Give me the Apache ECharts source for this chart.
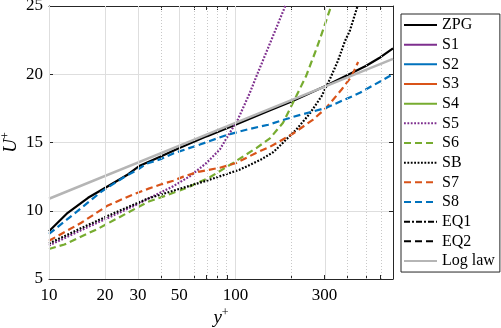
<!DOCTYPE html>
<html>
<head>
<meta charset="utf-8">
<script src="https://cdn.jsdelivr.net/npm/echarts@6/dist/echarts.min.js"></script>
<style>
  html, body { margin: 0; padding: 0; background: #fff; }
  #main { width: 501px; height: 328px; }
</style>
</head>
<body>
<div id="main"></div>
<script>
  // y+ tick values (labelled ones and dotted minor ones)
  const xTickLabels = [10, 20, 30, 50, 100, 300];
  const xMinorTicks = [40, 60, 70, 80, 90, 200, 400, 500, 600];

  // [y+, U+]
  const zpg = [[10, 8.5], [12.6, 9.85], [16.2, 10.95], [20.7, 11.8], [26.5, 12.66], [30.7, 13.3], [40, 14.0], [50, 14.6],
    [70, 15.45], [100, 16.3], [150, 17.3], [200, 18.0], [300, 19.1], [400, 19.95], [500, 20.6], [600, 21.25], [700, 21.9]];
  const s1 = [];
  const s2 = [];
  const s3 = [];
  const s4 = [];
  const s5 = [[10, 7.45], [15, 8.6], [22.5, 9.7], [30, 10.5], [36, 11.05], [46.4, 11.8], [57, 12.53], [70, 13.51],
    [82.5, 14.49], [93.3, 15.71], [103, 16.68], [119.5, 18.64], [130, 19.9], [159, 22.8], [185, 25]];
  const s6 = [[10, 7.2], [12.1, 7.53], [18.3, 8.68], [33.9, 10.65], [39.3, 10.95], [54.8, 11.68], [72.9, 12.45], [97.3, 13.51],
    [130, 14.61], [153, 15.3], [180, 16.45], [212, 18.4], [239, 19.85], [271, 21.8], [296, 23.3], [326, 25]];
  const sb = [[10, 7.6], [15, 8.75], [22.5, 9.85], [34, 10.9], [46, 11.45], [70, 12.2], [105, 13.0], [135, 13.7],
    [160, 14.3], [212, 15.95], [250, 17.1], [290, 18.4], [320, 19.6], [355, 21.0], [386, 22.4], [411, 23.2], [452, 25]];
  const s7 = [[10, 7.8], [14.9, 9.12], [20.7, 10.39], [28.8, 11.24], [33.9, 11.6], [39.3, 11.9], [46.4, 12.2], [52.6, 12.5],
    [63.2, 12.85], [82.5, 13.15], [101, 13.5], [130, 14.26], [153, 14.68], [204, 15.66], [261, 16.68], [307, 17.54],
    [371, 18.88], [420, 19.85], [455, 20.9]];
  const s8 = [[10, 8.3], [14.9, 10.2], [19.1, 11.4], [25.5, 12.5], [29.4, 12.95], [33.4, 13.45], [40, 13.8], [46.4, 14.2],
    [64.5, 14.85], [89.6, 15.55], [119.5, 16.0], [150, 16.3], [204, 16.88], [307, 17.54], [465, 18.64], [700, 20.0]];
  const eq1 = [];
  const eq2 = [];
  const logLaw = [[10, 10.88], [100, 16.44], [700, 21.12]];

  const FONT = 'Liberation Serif';
  const AX = '#262626';
  const lg = v => Math.log10(v);

  function mk(name, pts, color, type, width) {
    return {
      name: name,
      type: 'line',
      data: pts.map(p => [lg(p[0]), p[1]]),
      showSymbol: false,
      symbol: 'none',
      smooth: false,
      clip: true,
      lineStyle: { color: color, width: width || 2, type: type || 'solid' },
      itemStyle: { color: color },
      z: 3
    };
  }

  const DASH = [7, 4];
  const DOT = [1.8, 1.6];
  const nameRich = {
    i: { fontFamily: FONT, fontStyle: 'italic', fontSize: 19, color: '#000', lineHeight: 22 },
    s: { fontFamily: FONT, fontSize: 12, color: '#000', verticalAlign: 'top', lineHeight: 22 }
  };

  let myChart = echarts.init(document.getElementById('main'));
  myChart.setOption({
    animation: false,
    backgroundColor: '#fff',
    grid: { left: 49, right: 108, top: 6, bottom: 49, containLabel: false, outerBoundsMode: 'none' },
    legend: {
      orient: 'vertical',
      left: 401,
      top: 14,
      padding: [3, 5, 3, 2],
      itemWidth: 33,
      itemHeight: 14,
      itemGap: 3.67,
      borderColor: AX,
      borderWidth: 1,
      backgroundColor: '#fff',
      itemStyle: { color: 'rgba(0,0,0,0)', borderColor: 'rgba(0,0,0,0)', borderWidth: 0, opacity: 0 },
      textStyle: { fontFamily: FONT, fontSize: 16, color: '#000', lineHeight: 16 },
      data: ['ZPG', 'S1', 'S2', 'S3', 'S4', 'S5', 'S6', 'SB', 'S7', 'S8', 'EQ1', 'EQ2', 'Log law']
    },
    xAxis: [{
      type: 'value',
      min: 1,
      max: lg(700),
      position: 'bottom',
      axisLine: { onZero: false, lineStyle: { color: AX, width: 1 } },
      axisTick: { inside: true, length: 4, customValues: xTickLabels.concat(xMinorTicks).map(lg), lineStyle: { color: AX } },
      axisLabel: {
        customValues: xTickLabels.map(lg),
        formatter: v => String(Math.round(Math.pow(10, v))),
        fontFamily: FONT, fontSize: 17, color: '#000', margin: 8
      },
      splitLine: { show: false },
      name: '{i|y}{s|+}',
      nameLocation: 'middle',
      nameMoveOverlap: false,
      nameGap: 28,
      nameTextStyle: { rich: nameRich }
    }, {
      type: 'value',
      min: 1,
      max: lg(700),
      position: 'top',
      axisLine: { onZero: false, lineStyle: { color: AX, width: 1 } },
      axisTick: { inside: true, length: 4, customValues: xTickLabels.concat(xMinorTicks).map(lg), lineStyle: { color: AX } },
      axisLabel: { show: false },
      splitLine: { show: false }
    }],
    yAxis: [{
      type: 'value',
      min: 5,
      max: 25,
      interval: 5,
      position: 'left',
      axisLine: { show: true, onZero: false, lineStyle: { color: AX, width: 1 } },
      axisTick: { show: true, inside: true, length: 4, lineStyle: { color: AX } },
      axisLabel: { fontFamily: FONT, fontSize: 17, color: '#000', margin: 6 },
      splitLine: { show: true, lineStyle: { color: '#dedede', width: 1 } },
      name: '{i|U}{s|+}',
      nameLocation: 'middle',
      nameMoveOverlap: false,
      nameGap: 27,
      nameRotate: 90,
      nameTextStyle: { rich: nameRich }
    }, {
      type: 'value',
      min: 5,
      max: 25,
      interval: 5,
      position: 'right',
      axisLine: { show: true, onZero: false, lineStyle: { color: AX, width: 1 } },
      axisTick: { show: true, inside: true, length: 4, lineStyle: { color: AX } },
      axisLabel: { show: false },
      splitLine: { show: false }
    }],
    series: [
      {
        // vertical grid lines
        type: 'line',
        data: [],
        silent: true,
        z: 1,
        markLine: {
          symbol: 'none',
          silent: true,
          animation: false,
          label: { show: false },
          data: xTickLabels.map(v => ({ xAxis: lg(v), lineStyle: { color: '#dedede', type: 'solid', width: 1 } }))
            .concat(xMinorTicks.map(v => ({ xAxis: lg(v), lineStyle: { color: '#c8c8c8', type: [1, 2], width: 1 } })))
        }
      },
      mk('ZPG', zpg, '#000000', 'solid', 2.2),
      mk('S1', s1, '#7E2F8E', 'solid', 2.2),
      mk('S2', s2, '#0072BD', 'solid', 2.2),
      mk('S3', s3, '#D95319', 'solid', 2.2),
      mk('S4', s4, '#77AC30', 'solid', 2.2),
      mk('S5', s5, '#7E2F8E', DOT, 2.2),
      mk('S6', s6, '#77AC30', DASH, 2.2),
      mk('SB', sb, '#000000', DOT, 2.2),
      mk('S7', s7, '#D95319', DASH, 2.2),
      mk('S8', s8, '#0072BD', DASH, 2.2),
      mk('EQ1', eq1, '#000000', [6, 2, 2, 2], 2.2),
      mk('EQ2', eq2, '#000000', DASH, 2.2),
      mk('Log law', logLaw, '#b5b5b5', 'solid', 2.5)
    ]
  });
</script>
</body>
</html>
